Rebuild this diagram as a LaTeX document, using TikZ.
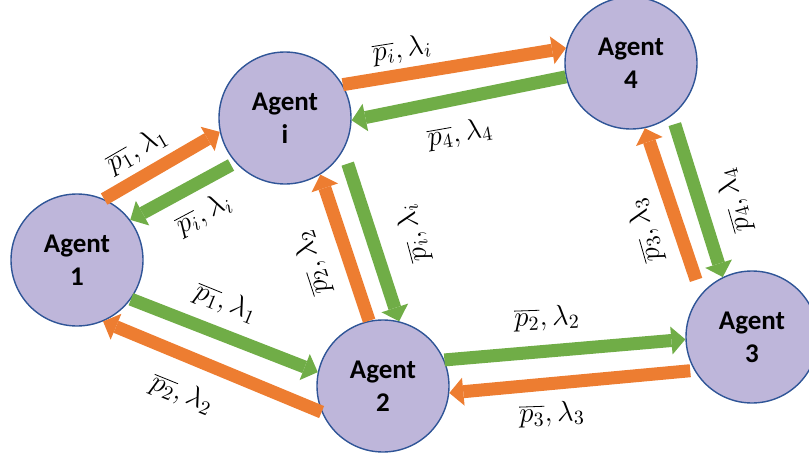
\documentclass[tikz,border=0pt]{standalone}
\usepackage{fontspec}
\setsansfont{Carlito}
\usepackage{tikz}
\usetikzlibrary{arrows.meta}

\definecolor{agentfill}{RGB}{190,182,218}
\definecolor{agentedge}{RGB}{47,85,151}
\definecolor{msgorange}{RGB}{237,125,49}
\definecolor{msggreen}{RGB}{112,173,71}

\begin{document}
\begin{tikzpicture}[
  x=0.5pt, y=-0.5pt,
  agent/.style={circle, draw=agentedge, fill=agentfill, line width=0.7pt,
    minimum size=66pt, inner sep=0pt, align=center,
    font=\sffamily\bfseries\fontsize{13.5}{16.5}\selectfont},
  lbl/.style={font=\fontsize{14}{16}\selectfont, inner sep=1pt},
  arr/.style={line width=6.5pt, -{Triangle[length=7pt, width=14pt, line width=0pt]}},
  oarr/.style={arr, draw=msgorange},
  garr/.style={arr, draw=msggreen}
]
  \useasboundingbox (0,0) rectangle (809,455);

  \node[agent] (a1) at (77,260)  {Agent\\1};
  \node[agent] (ai) at (285,118) {Agent\\i};
  \node[agent] (a4) at (631,63)  {Agent\\4};
  \node[agent] (a3) at (752,337) {Agent\\3};
  \node[agent] (a2) at (383,386) {Agent\\2};

  \draw[oarr] (a1.66) -- (ai.192);
  \draw[garr, shorten <=2.5pt] (ai.222) -- (a1.37);
  \draw[oarr] (ai.30) -- (a4.167);
  \draw[garr] (a4.192) -- (ai.358);
  \draw[oarr] (a2.102) -- (ai.302);
  \draw[garr, shorten <=7pt] (ai.331) -- (a2.76);
  \draw[oarr, shorten <=7.5pt] (a3.140) -- (a4.282);
  \draw[garr, shorten <=4.5pt] (a4.308) -- (a3.116);
  \draw[garr] (a1.324) -- (a2.168);
  \draw[oarr] (a2.203) -- (a1.293);
  \draw[garr] (a2.23) -- (a3.182);
  \draw[oarr, shorten <=2pt] (a3.210) -- (a2.354);

  \node[lbl, rotate=30]  (l1i) at (137,150) {$\overline{p_1}, \lambda_1$};
  \node[lbl, rotate=28]  (li1) at (204,214) {$\overline{p_i}, \lambda_i$};
  \node[lbl, rotate=9]   (li4) at (402,50)  {$\overline{p_i}, \lambda_i$};
  \node[lbl, rotate=10]  (l4i) at (460,134) {$\overline{p_4}, \lambda_4$};
  \node[lbl, rotate=108] (l2i) at (312,263) {$\overline{p_2}, \lambda_2$};
  \node[lbl, rotate=105] (li2) at (413,233) {$\overline{p_i}, \lambda_i$};
  \node[lbl, rotate=106] (l34) at (645,230) {$\overline{p_3}, \lambda_3$};
  \node[lbl, rotate=106] (l43) at (734,200) {$\overline{p_4}, \lambda_4$};
  \node[lbl, rotate=-22] (l12) at (226,303) {$\overline{p_1}, \lambda_1$};
  \node[lbl, rotate=-22] (l21) at (182,394) {$\overline{p_2}, \lambda_2$};
  \node[lbl, rotate=2]   (l23) at (547,318) {$\overline{p_2}, \lambda_2$};
  \node[lbl, rotate=2]   (l32) at (552,414) {$\overline{p_3}, \lambda_3$};
\end{tikzpicture}
\end{document}
